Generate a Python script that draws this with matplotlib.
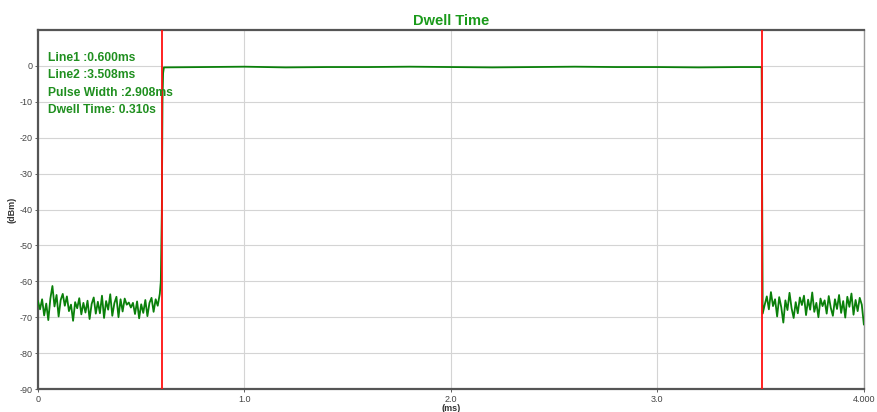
import matplotlib
matplotlib.use('Agg')
import matplotlib.pyplot as plt
import numpy as np

plt.rcParams['font.family'] = ['Liberation Sans', 'DejaVu Sans']
plt.rcParams['axes.unicode_minus'] = False

# noise floor before the pulse (0.00 - 0.59 ms, step 0.01 ms)
t_pre = [round(0.01 * i, 2) for i in range(60)]
p_pre = [-65.5, -67.8, -65.0, -69.5, -66.2, -70.8, -64.8, -61.3, -67.0, -63.8,
         -69.8, -65.2, -63.5, -66.8, -64.2, -68.3, -66.5, -71.0, -65.8, -67.5,
         -64.7, -69.2, -66.0, -68.7, -65.4, -70.5, -66.3, -64.5, -69.0, -65.7,
         -68.9, -64.0, -70.2, -65.5, -67.9, -63.6, -69.6, -66.1, -64.3, -70.0,
         -65.0, -68.4, -64.8, -66.5, -65.9, -67.3, -66.0, -69.1, -65.6, -70.3,
         -66.4, -68.8, -65.2, -69.7, -66.0, -64.6, -68.5, -65.0, -66.8, -63.5]

# rising edge, flat top, falling edge
t_pulse = [0.595, 0.600, 0.603, 0.606, 0.610, 0.8, 1.0, 1.2, 1.4, 1.6, 1.8, 2.0,
           2.2, 2.4, 2.6, 2.8, 3.0, 3.2, 3.4, 3.500, 3.505, 3.508]
p_pulse = [-60.0, -40.0, -10.0, -2.0, -0.4, -0.3, -0.2, -0.4, -0.3, -0.3, -0.2, -0.3,
           -0.4, -0.3, -0.2, -0.3, -0.3, -0.4, -0.3, -0.3, -0.4, -40.0]

# noise floor after the pulse (3.51 - 4.00 ms, step 0.01 ms)
t_post = [round(3.51 + 0.01 * i, 2) for i in range(50)]
p_post = [-69.0, -66.5, -64.2, -67.8, -63.0, -66.9, -65.0, -69.8, -64.4, -67.2,
          -71.5, -65.3, -68.0, -63.2, -67.5, -70.2, -65.8, -68.9, -64.5, -66.6,
          -64.0, -69.4, -65.1, -67.9, -63.1, -68.5, -66.0, -70.0, -64.8, -66.9,
          -65.3, -69.0, -64.1, -67.4, -69.6, -65.0, -67.7, -63.8, -68.8, -65.5,
          -70.1, -64.3, -67.1, -63.4, -69.3, -65.2, -68.3, -64.6, -66.5, -72.0]

line1 = 0.600
line2 = 3.508
info = ['Line1 :0.600ms', 'Line2 :3.508ms', 'Pulse Width :2.908ms', 'Dwell Time: 0.310s']

xticks = [0, 1, 2, 3, 4]
xticklabels = ['0', '1.0', '2.0', '3.0', '4.000']
yticks = [-90, -80, -70, -60, -50, -40, -30, -20, -10, 0]

t = t_pre + t_pulse + t_post
p = p_pre + p_pulse + p_post

fig = plt.figure(figsize=(8.77, 4.12), dpi=100)
ax = fig.add_axes([0.0433, 0.0558, 0.9417, 0.8712])

ax.plot(t, p, color='#0a800a', lw=1.3, zorder=3)
ax.axvline(line1, color='#ff1010', lw=1.3, zorder=4)
ax.axvline(line2, color='#ff1010', lw=1.3, zorder=4)

ax.set_xlim(0, 4)
ax.set_ylim(-90, 10)
ax.set_xticks(xticks)
ax.set_xticklabels(xticklabels)
ax.set_yticks(yticks)
ax.grid(True, color='#d4d4d4', lw=0.8)
ax.tick_params(labelsize=6.5, colors='#444444', length=2, width=0.6, pad=2)

for side in ['left', 'bottom', 'top']:
    ax.spines[side].set_color('#555555')
    ax.spines[side].set_linewidth(1.6)
ax.spines['right'].set_color('#999999')
ax.spines['right'].set_linewidth(1.0)

ax.set_xlabel('(ms)', fontsize=6.5, fontweight='bold', color='#333333', labelpad=0)
ax.set_ylabel('(dBm)', fontsize=6.5, fontweight='bold', color='#333333', labelpad=2)
ax.set_title('Dwell Time', fontsize=10.5, fontweight='bold', color='#1a9a1a', pad=4)

for i, s in enumerate(info):
    ax.text(0.012, 0.922 - i * 0.048, s, transform=ax.transAxes, fontsize=8.7,
            fontweight='bold', color='#1f8f1f', va='center', ha='left', zorder=5)

fig.savefig('out.png', dpi=100)
